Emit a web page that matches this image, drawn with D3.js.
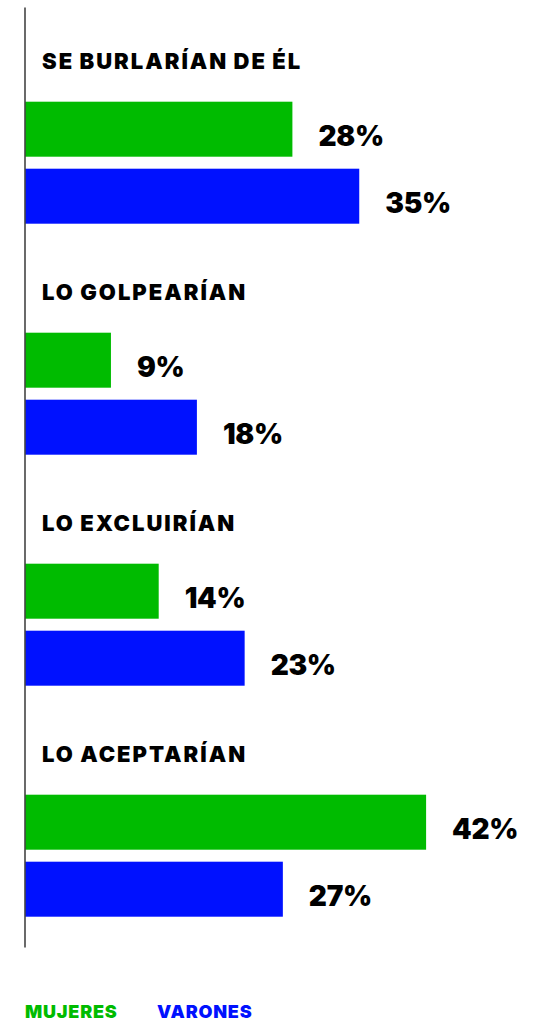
<!DOCTYPE html>
<html>
<head>
<meta charset="utf-8">
<script src="https://cdn.jsdelivr.net/npm/d3@7"></script>
<style>
  html, body { margin: 0; padding: 0; background: #ffffff; }
  svg { display: block; }
  text { font-family: Inter, "Open Sans", sans-serif; font-weight: 900; }
</style>
</head>
<body>
<svg id="chart" width="540" height="1022"></svg>
<script>
// ---- data ----
const categories = ["SE BURLARÍAN DE ÉL", "LO GOLPEARÍAN", "LO EXCLUIRÍAN", "LO ACEPTARÍAN"];
const seriesNames = ["MUJERES", "VARONES"];
const mujeres = [28, 9, 14, 42];
const varones = [35, 18, 23, 27];
const seriesColors = ["#00bb00", "#0011ff"];

// ---- layout ----
const svg = d3.select("#chart");

const x = d3.scaleLinear().domain([0, 50]).range([25, 25 + 477.5]);

const groupY = d3.scaleBand()
  .domain(categories)
  .range([40.7, 40.7 + 231 * categories.length])
  .padding(0);

const barY = d3.scaleBand()
  .domain(seriesNames)
  .range([61, 183])
  .paddingInner(12 / 67)
  .paddingOuter(0);

const color = d3.scaleOrdinal().domain(seriesNames).range(seriesColors);

const rows = categories.map((c, i) => ({
  category: c,
  values: [
    { series: seriesNames[0], value: mujeres[i] },
    { series: seriesNames[1], value: varones[i] }
  ]
}));

const groups = svg.selectAll("g.group")
  .data(rows)
  .join("g")
  .attr("class", "group")
  .attr("transform", d => `translate(0,${groupY(d.category)})`);

// category titles
groups.append("text")
  .attr("x", 42)
  .attr("y", 28)
  .attr("fill", "#000")
  .style("font-size", "22px")
  .style("letter-spacing", "2px")
  .style("word-spacing", "-1px")
  .text(d => d.category);

// bars
groups.selectAll("rect")
  .data(d => d.values)
  .join("rect")
  .attr("x", x(0))
  .attr("y", d => barY(d.series))
  .attr("width", d => x(d.value) - x(0))
  .attr("height", barY.bandwidth())
  .attr("fill", d => color(d.series));

// value labels
groups.selectAll("text.val")
  .data(d => d.values)
  .join("text")
  .attr("class", "val")
  .attr("x", d => x(d.value) + 26)
  .attr("y", d => barY(d.series) + 44)
  .attr("fill", "#000")
  .style("font-size", "28px")
  .style("letter-spacing", "-0.3px")
  .text(d => d.value + "%");

// vertical axis line
const yAxisScale = d3.scaleLinear().domain([0, 1]).range([7, 947]);
svg.append("g")
  .attr("transform", `translate(${x(0) - 0.5},0)`)
  .call(d3.axisLeft(yAxisScale).tickValues([]).tickSizeOuter(0))
  .call(g => g.select(".domain").attr("stroke", "#444").attr("stroke-width", 1.6));

// legend
const legendX = [25, 157];
svg.selectAll("text.legend")
  .data(seriesNames)
  .join("text")
  .attr("class", "legend")
  .attr("x", (d, i) => legendX[i])
  .attr("y", 1018)
  .attr("fill", d => color(d))
  .style("font-size", "18px")
  .style("letter-spacing", "0.8px")
  .text(d => d);
</script>
</body>
</html>
